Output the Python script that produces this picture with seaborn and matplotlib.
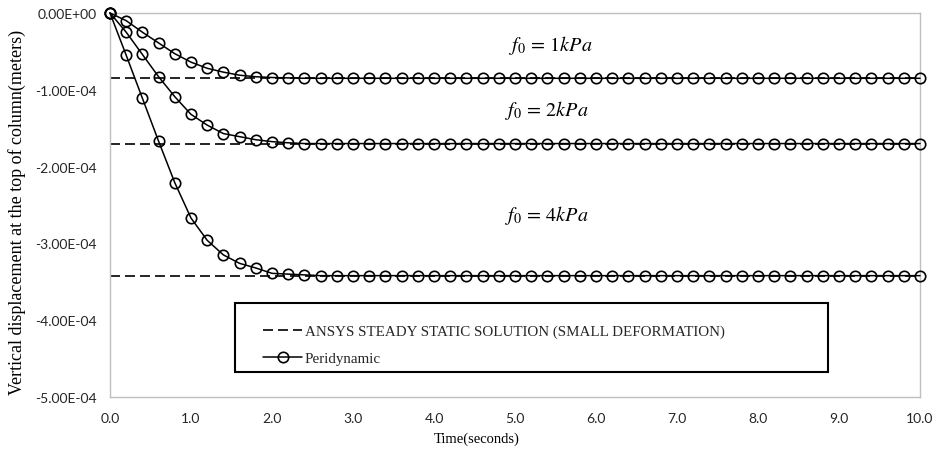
import matplotlib
matplotlib.use("Agg")
import matplotlib.pyplot as plt
from matplotlib.lines import Line2D
from matplotlib.patches import Rectangle
import seaborn as sns

# ---- data ----
time_s = [round(0.2 * i, 1) for i in range(51)]

peri_1kpa = [0.0, -1.0e-5, -2.5e-5, -3.9e-5, -5.3e-5, -6.4e-5, -7.2e-5, -7.7e-5,
             -8.1e-5, -8.3e-5, -8.4e-5, -8.45e-5] + [-8.5e-5] * 39
peri_2kpa = [0.0, -2.5e-5, -5.4e-5, -8.3e-5, -1.09e-4, -1.32e-4, -1.46e-4, -1.57e-4,
             -1.61e-4, -1.65e-4, -1.675e-4, -1.69e-4] + [-1.70e-4] * 39
peri_4kpa = [0.0, -5.5e-5, -1.11e-4, -1.67e-4, -2.21e-4, -2.67e-4, -2.96e-4, -3.15e-4,
             -3.26e-4, -3.32e-4, -3.39e-4, -3.40e-4, -3.41e-4] + [-3.42e-4] * 38

ansys_steady = [-8.5e-5, -1.70e-4, -3.42e-4]
ansys_x = [0.0, 10.0]

load_labels = [r"$f_0\,=\,1kPa$", r"$f_0\,=\,2kPa$", r"$f_0\,=\,4kPa$"]
label_x = [4.93, 4.88, 4.88]
label_y = [-4.05e-5, -1.25e-4, -2.62e-4]

xticks = [0, 1, 2, 3, 4, 5, 6, 7, 8, 9, 10]
xtick_labels = ["0.0", "1.0", "2.0", "3.0", "4.0", "5.0", "6.0", "7.0", "8.0", "9.0", "10.0"]
yticks = [0.0, -1e-4, -2e-4, -3e-4, -4e-4, -5e-4]
ytick_labels = ["0.00E+00", "-1.00E-04", "-2.00E-04", "-3.00E-04", "-4.00E-04", "-5.00E-04"]

legend_labels = ["ANSYS STEADY STATIC SOLUTION (SMALL DEFORMATION)", "Peridynamic"]

# ---- style ----
sns.set_theme(style="white")
plt.rcParams["mathtext.fontset"] = "stix"

fig = plt.figure(figsize=(9.35, 4.56), dpi=100)
ax = fig.add_axes([110 / 935, 58 / 456, 810 / 935, 384 / 456])

spine_col = "#BFBFBF"

for v in ansys_steady:
    sns.lineplot(x=ansys_x, y=[v, v], ax=ax, color="black", linewidth=1.2,
                 dashes=False, linestyle=(0, (6, 3)), zorder=2)

for series in [peri_1kpa, peri_2kpa, peri_4kpa]:
    sns.lineplot(x=time_s, y=series, ax=ax, color="black", linewidth=1.1,
                 marker="o", markersize=7.5, markerfacecolor="none",
                 markeredgecolor="black", markeredgewidth=1.2, clip_on=False, zorder=3)

for txt, lx, ly in zip(load_labels, label_x, label_y):
    ax.text(lx, ly, txt, fontsize=14.5, ha="left", va="center", color="black")

ax.set_xlim(0, 10)
ax.set_ylim(-5e-4, 0)
ax.set_xticks(xticks)
ax.set_xticklabels(xtick_labels, fontfamily="Lato", fontsize=10, color="#262626")
ax.set_yticks(yticks)
ax.set_yticklabels(ytick_labels, fontfamily="Lato", fontsize=10, color="#262626")
ax.tick_params(axis="x", direction="in", length=4, width=0.8, color=spine_col, pad=11)
ax.tick_params(axis="y", direction="in", length=4, width=0.8, color=spine_col, pad=9.5)

for s in ax.spines.values():
    s.set_color(spine_col)
    s.set_linewidth(1.0)
    s.set_visible(True)

ax.set_xlabel("Time(seconds)", fontfamily="Liberation Serif", fontsize=10.5, color="black")
ax.xaxis.set_label_coords(0.453, -0.09)
ax.set_ylabel("Vertical displacement at the top of column(meters)",
              fontfamily="Liberation Serif", fontsize=13, color="black")
ax.yaxis.set_label_coords(-0.104, 0.484)

# legend frame drawn as a rectangle, content as frameless legend
ax.add_patch(Rectangle((0.1543, 0.0651), 0.732, 0.1797, transform=ax.transAxes,
                       facecolor="white", edgecolor="black", linewidth=1.5,
                       zorder=4, clip_on=False))
handles = [
    Line2D([], [], color="black", linewidth=1.2, linestyle=(0, (6, 3))),
    Line2D([], [], color="black", linewidth=1.1, marker="o", markersize=7.5,
           markerfacecolor="none", markeredgecolor="black", markeredgewidth=1.2),
]
leg = ax.legend(handles, legend_labels, loc="center left",
                bbox_to_anchor=(0.1889, 0.1355),
                prop={"family": "Liberation Serif", "size": 10.8},
                frameon=False, handlelength=2.6, handletextpad=0.2,
                labelspacing=0.9, borderpad=0, borderaxespad=0)
leg.set_zorder(5)

fig.savefig("out.png", dpi=100, facecolor="white")
